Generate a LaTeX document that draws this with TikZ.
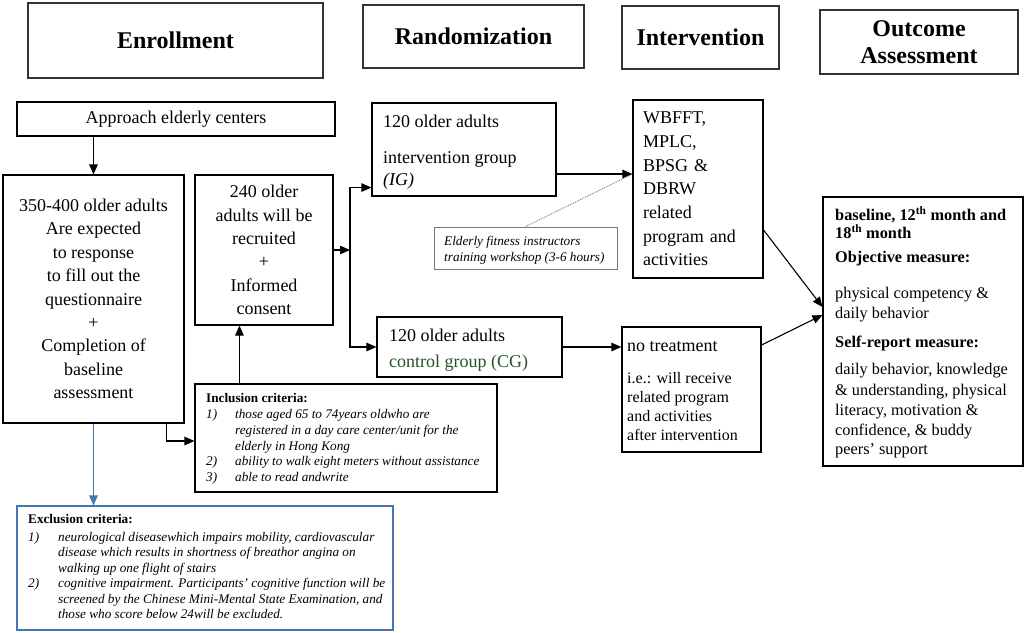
\documentclass[tikz,border=0pt]{standalone}
\usepackage{fontspec}
\setmainfont{Liberation Serif}
\usetikzlibrary{arrows.meta,calc}
\definecolor{exblue}{RGB}{70,120,175}
\definecolor{cggreen}{RGB}{35,85,35}
\definecolor{wsgray}{RGB}{120,120,120}
\newcommand{\fsz}[2]{\fontsize{#1}{#2}\selectfont}
\begin{document}
\begin{tikzpicture}[x=1pt,y=-1pt,
 hdr/.style={draw=black!80, line width=1.3pt, inner sep=0pt, font=\fsz{24}{27}\bfseries, align=center},
 box/.style={draw, line width=1.1pt, inner sep=0pt},
 tx/.style={anchor=base west, inner sep=0pt, font=\fsz{18}{23.4}},
 txs/.style={anchor=base west, inner sep=0pt, font=\fsz{16}{19}},
 sm/.style={anchor=base west, inner sep=0pt, font=\fsz{13.2}{16}\itshape},
 smb/.style={anchor=base west, inner sep=0pt, font=\fsz{13.2}{16}\bfseries},
 oc/.style={anchor=base west, inner sep=0pt, font=\fsz{16.3}{20}},
 ocb/.style={anchor=base west, inner sep=0pt, font=\fsz{16.3}{20}\bfseries},
 arr/.style={line width=1.1pt, -{Triangle[length=10pt,width=8.5pt]}},
]
\useasboundingbox (0,0) rectangle (1025,632);
\fill[white] (0,0) rectangle (1025,632);

% headers
\node[hdr, minimum width=295pt, minimum height=75pt] (h1) at (175.5,40.5) {Enrollment};
\node[hdr, minimum width=221pt, minimum height=63pt] (h2) at (473.5,36.5) {Randomization};
\node[hdr, minimum width=157pt, minimum height=63pt] (h3) at (700.5,37.5) {Intervention};
\node[hdr, minimum width=198pt, minimum height=64pt] (h4) at (919,42) {Outcome\\Assessment};

% enrollment column
\node[box, minimum width=318pt, minimum height=34pt, font=\fsz{18}{22}] (A) at (176,119) {Approach elderly centers};
\node[box, minimum width=181pt, minimum height=248pt, align=center, font=\fsz{18}{23.4}] (L) at (93.5,299)
 {350-400 older adults\\Are expected\\to response\\to fill out the\\questionnaire\\+\\Completion of\\baseline\\assessment};
\node[box, minimum width=138pt, minimum height=150pt, align=center, font=\fsz{18}{23.4}] (R) at (264,250)
 {240 older\\adults will be\\recruited\\+\\Informed\\consent};

% inclusion
\node[box, minimum width=302pt, minimum height=108pt] (I) at (346,438) {};
\node[smb] (inh) at (206,402.3) {Inclusion criteria:};
\node[sm] (inn1) at (206,418.3) {1)};
\node[sm] (inn2) at (206,465.8) {2)};
\node[sm] (inn3) at (206,481.3) {3)};
\node[sm] (int1) at (235,418.3) {those aged 65 to 74years oldwho are};
\node[sm] (int2) at (235,434.3) {registered in a day care center/unit for the};
\node[sm] (int3) at (235,450.3) {elderly in Hong Kong};
\node[sm] (int4) at (235,465.8) {ability to walk eight meters without assistance};
\node[sm] (int5) at (235,481.3) {able to read andwrite};

% exclusion
\node[box, draw=exblue, minimum width=376pt, minimum height=124pt] (E) at (205,568) {};
\node[smb] (exh) at (28,523.3) {Exclusion criteria:};
\node[sm] (exn1) at (28,541.3) {1)};
\node[sm] (exn2) at (28,587.3) {2)};
\node[sm] (ext1) at (58,541.3) {neurological diseasewhich impairs mobility, cardiovascular};
\node[sm] (ext2) at (58,556.8) {disease which results in shortness of breathor angina on};
\node[sm] (ext3) at (58,572.3) {walking up one flight of stairs};
\node[sm] (ext4) at (58,587.3) {cognitive impairment. Participants' cognitive function will be};
\node[sm] (ext5) at (58,603.0) {screened by the Chinese Mini-Mental State Examination, and};
\node[sm] (ext6) at (58,618.3) {those who score below 24will be excluded.};

% randomization
\node[box, minimum width=184pt, minimum height=93pt] (IG) at (464,149.5) {};
\node[tx] (ig1) at (383,127) {120 older adults};
\node[tx] (ig2) at (383,163) {intervention group};
\node[tx] (ig3) at (383,185) {\itshape (IG)};

\node[box, minimum width=185pt, minimum height=60pt] (CG) at (469.5,347) {};
\node[tx] (cg1) at (389,341) {120 older adults};
\node[tx, text=cggreen] (cg2) at (389,367) {control group (CG)};

\node[draw=wsgray, line width=0.8pt, inner sep=0pt, minimum width=183pt, minimum height=42pt] (W) at (525.5,248) {};
\node[sm] (w1) at (444,245.3) {Elderly fitness instructors};
\node[sm] (w2) at (444,261.3) {training workshop (3-6 hours)};

% intervention
\node[box, minimum width=130pt, minimum height=178pt, text width=110pt, align=left, font=\fsz{18}{23.7}] (B) at (698,189)
 {WBFFT,\\MPLC,\\BPSG \&\\DBRW\\related\\program and\\activities};

\node[box, minimum width=139pt, minimum height=125pt] (NT) at (691.5,389.5) {};
\node[tx] (nt1) at (627,351) {no treatment};
\node[txs] (nt2) at (627,383.3) {i.e.: will receive};
\node[txs] (nt3) at (627,402.3) {related program};
\node[txs] (nt4) at (627,421.3) {and activities};
\node[txs] (nt5) at (627,440.3) {after intervention};

% outcome
\node[box, minimum width=200pt, minimum height=269pt] (O) at (923,331.5) {};
\node[ocb] (o1) at (835,220.4) {baseline, 12\textsuperscript{th} month and};
\node[ocb] (o2) at (835,238.4) {18\textsuperscript{th} month};
\node[ocb] (o3) at (835,262.4) {Objective measure:};
\node[oc] (o4) at (835,298.4) {physical competency \&};
\node[oc] (o5) at (835,318.4) {daily behavior};
\node[ocb] (o6) at (835,347.4) {Self-report measure:};
\node[oc] (o7) at (835,374.4) {daily behavior, knowledge};
\node[oc] (o8) at (835,395) {\& understanding, physical};
\node[oc] (o9) at (835,415.5) {literacy, motivation \&};
\node[oc] (o10) at (835,435.5) {confidence, \& buddy};
\node[oc] (o11) at (835,454.5) {peers' support};

% connectors
\draw[arr] (A.south -| L.north) -- (L.north);
\draw[arr] ([xshift=-18pt]L.south east) |- ([yshift=-3pt]I.west);
\draw[arr, draw=exblue] (L.south) -- (L.south |- E.north);
\coordinate (iup) at ([xshift=45pt]I.north west);
\draw[arr] (iup) -- (iup |- R.south);
\coordinate (sp) at (350,250);
\draw[arr] (R.east) -- (sp);
\coordinate (igin) at ([yshift=9pt]IG.south west);
\draw[arr] (sp) |- (igin);
\draw[arr] (sp) |- (CG.west);
\coordinate (igout) at ([yshift=-24.5pt]IG.east);
\coordinate (tipB) at (igout -| B.west);
\draw[arr] (igout) -- (tipB);
\draw[wsgray, densely dotted, line width=0.9pt] (W.north) -- (tipB);
\draw[arr] (CG.east) -- (CG.east -| NT.west);
\coordinate (bout) at ([yshift=-41pt]B.east);
\coordinate (oin1) at ([yshift=24.5pt]O.west);
\draw[arr] (bout) -- (oin1);
\coordinate (ntout) at ([yshift=44.5pt]NT.east);
\coordinate (oin2) at ([yshift=16.5pt]O.west);
\draw[arr] (ntout) -- (oin2);
\end{tikzpicture}
\end{document}
